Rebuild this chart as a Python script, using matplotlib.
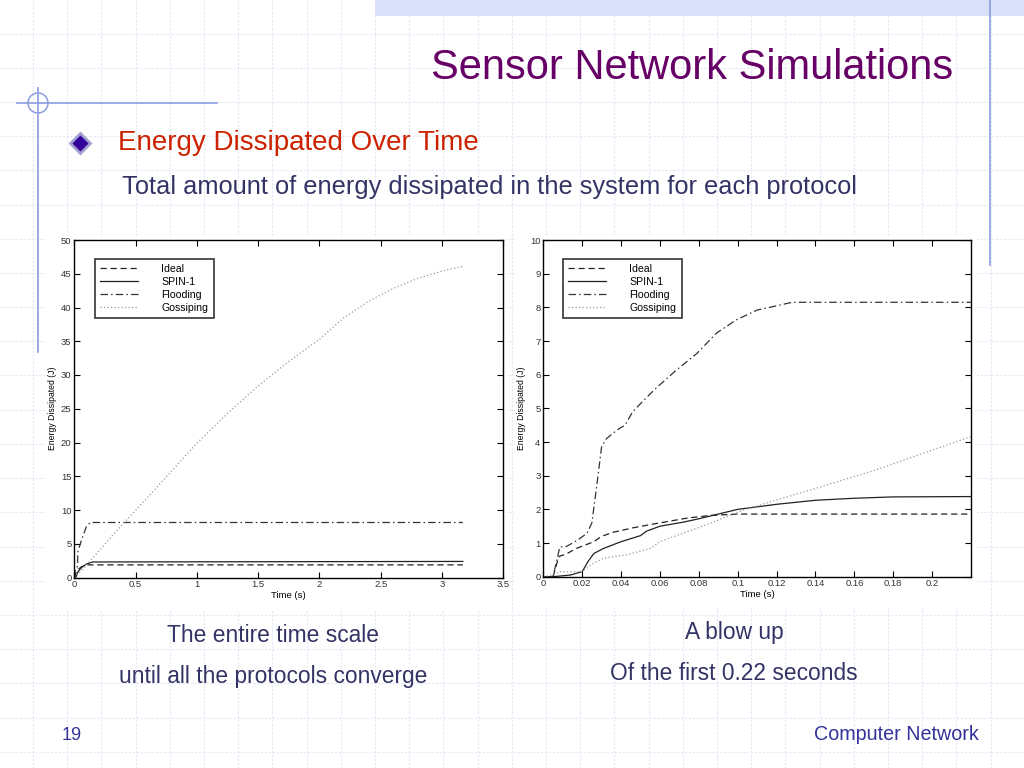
import matplotlib
matplotlib.use("Agg")
import matplotlib.pyplot as plt
from matplotlib.patches import Rectangle, Circle

# ---- data ----
labels = ["Ideal", "SPIN-1", "Flooding", "Gossiping"]

# whole time scale (left chart)
full_ideal_t = [0, 0.005, 0.01, 0.03, 0.06, 0.1, 3.17]
full_ideal_e = [0, 0, 0.6, 1.2, 1.6, 1.87, 1.87]
full_spin_t = [0, 0.015, 0.03, 0.06, 0.1, 0.15, 3.17]
full_spin_e = [0, 0.1, 0.85, 1.5, 2.0, 2.3, 2.38]
full_flood_t = [0, 0.005, 0.025, 0.03, 0.06, 0.1, 0.13, 3.17]
full_flood_e = [0, 0.9, 1.6, 3.9, 5.6, 7.6, 8.15, 8.15]
full_gossip_t = [0, 0.01, 0.03, 0.06, 0.1, 0.14, 0.2, 0.3, 0.4, 0.6, 0.8, 1.0,
                 1.25, 1.5, 1.75, 2.0, 2.2, 2.4, 2.6, 2.8, 3.0, 3.17]
full_gossip_e = [0, 0.15, 0.55, 1.05, 1.8, 2.7, 3.9, 6.0, 8.0, 11.9, 15.9, 19.9,
                 24.3, 28.4, 32.0, 35.3, 38.5, 40.9, 42.8, 44.3, 45.4, 46.1]

# first 0.22 s (right chart)
zoom_ideal_t = [0, 0.005, 0.008, 0.012, 0.017, 0.022, 0.026, 0.03, 0.036, 0.046,
                0.06, 0.074, 0.086, 0.1, 0.22]
zoom_ideal_e = [0, 0, 0.6, 0.68, 0.84, 0.95, 1.04, 1.2, 1.32, 1.45,
                1.6, 1.74, 1.82, 1.86, 1.86]
zoom_spin_t = [0, 0.005, 0.014, 0.02, 0.023, 0.026, 0.031, 0.04, 0.05, 0.053, 0.06,
               0.072, 0.08, 0.09, 0.1, 0.12, 0.14, 0.16, 0.18, 0.22]
zoom_spin_e = [0, 0, 0.05, 0.15, 0.45, 0.69, 0.84, 1.04, 1.22, 1.35, 1.5,
               1.62, 1.72, 1.86, 2.0, 2.15, 2.27, 2.33, 2.37, 2.38]
zoom_flood_t = [0, 0.005, 0.0085, 0.012, 0.018, 0.0225, 0.025, 0.0277, 0.03, 0.0325,
                0.038, 0.042, 0.046, 0.051, 0.058, 0.0685, 0.079, 0.089, 0.099,
                0.11, 0.118, 0.128, 0.22]
zoom_flood_e = [0, 0, 0.88, 0.9, 1.1, 1.29, 1.6, 2.8, 3.86, 4.1,
                4.36, 4.5, 4.9, 5.2, 5.6, 6.14, 6.63, 7.23, 7.62,
                7.92, 8.02, 8.15, 8.15]
zoom_gossip_t = [0, 0.005, 0.0086, 0.0197, 0.026, 0.031, 0.043, 0.055, 0.06,
                 0.0856, 0.103, 0.12, 0.137, 0.171, 0.2, 0.22]
zoom_gossip_e = [0, 0.05, 0.15, 0.15, 0.4, 0.55, 0.65, 0.84, 1.04,
                 1.58, 1.98, 2.28, 2.57, 3.17, 3.76, 4.16]

full_xticks = [0, 0.5, 1, 1.5, 2, 2.5, 3, 3.5]
full_xlabels = ["0", "0.5", "1", "1.5", "2", "2.5", "3", "3.5"]
zoom_xticks = [0, 0.02, 0.04, 0.06, 0.08, 0.1, 0.12, 0.14, 0.16, 0.18, 0.2]
zoom_xlabels = ["0", "0.02", "0.04", "0.06", "0.08", "0.1", "0.12", "0.14", "0.16", "0.18", "0.2"]

W, H = 1024, 768
fig = plt.figure(figsize=(10.24, 7.68), dpi=100)
fig.patch.set_facecolor("white")

# slide background drawn in pixel coordinates
bg = fig.add_axes([0, 0, 1, 1])
bg.set_xlim(0, W)
bg.set_ylim(H, 0)
bg.axis("off")

grid_col = "#e3e7f6"
k = 33.0
while k < W:
    bg.plot([k, k], [0, H], color=grid_col, lw=0.8, ls=(0, (2, 1.5)), zorder=0)
    k += 34.2
k = 33.5
while k < H:
    bg.plot([0, W], [k, k], color=grid_col, lw=0.8, ls=(0, (2, 1.5)), zorder=0)
    k += 34.2

bg.add_patch(Rectangle((375, 0), W - 375, 16, facecolor="#d9e1f8", edgecolor="none", zorder=1))
bg.plot([990, 990], [0, 265], color="#8c9de0", lw=1.2, zorder=2)
bg.plot([17, 217], [103, 103], color="#8c9de0", lw=1.2, zorder=2)
bg.plot([38, 38], [88, 352], color="#8c9de0", lw=1.2, zorder=2)
bg.add_patch(Circle((38, 103), 10, fill=False, edgecolor="#8c9de0", lw=1.1, zorder=2))

# white picture areas for the two charts
bg.add_patch(Rectangle((45, 236), 462, 374, facecolor="white", edgecolor="none", zorder=3))
bg.add_patch(Rectangle((515, 236), 462, 370, facecolor="white", edgecolor="none", zorder=3))

font = "Liberation Sans"
bg.text(953, 68, "Sensor Network Simulations", color="#660066", fontsize=30,
        family=font, ha="right", va="center", zorder=4)
bg.plot([80], [143], marker="D", markersize=10, markerfacecolor="#330099",
        markeredgecolor="#a0a0d0", markeredgewidth=2, zorder=4)
bg.text(118, 143, "Energy Dissipated Over Time", color="#cc2200", fontsize=20,
        family=font, ha="left", va="center", zorder=4)
bg.text(122, 187, "Total amount of energy dissipated in the system for each protocol",
        color="#333366", fontsize=18.3, family=font, ha="left", va="center", zorder=4)
bg.text(273, 635, "The entire time scale", color="#333366", fontsize=16.4,
        family=font, ha="center", va="center", zorder=4)
bg.text(273, 676, "until all the protocols converge", color="#333366", fontsize=16.4,
        family=font, ha="center", va="center", zorder=4)
bg.text(734, 633, "A blow up", color="#333366", fontsize=16.4,
        family=font, ha="center", va="center", zorder=4)
bg.text(734, 673, "Of the first 0.22 seconds", color="#333366", fontsize=16.4,
        family=font, ha="center", va="center", zorder=4)
bg.text(62, 736, "19", color="#333399", fontsize=13, family=font,
        ha="left", va="center", zorder=4)
bg.text(979, 735, "Computer Network", color="#333399", fontsize=14.2, family=font,
        ha="right", va="center", zorder=4)


def px_axes(x0, x1, y0, y1):
    return fig.add_axes([x0 / W, 1 - y1 / H, (x1 - x0) / W, (y1 - y0) / H])


def style_chart(ax, xlim, ylim, xticks, xlabels, yticks):
    ax.set_xlim(*xlim)
    ax.set_ylim(*ylim)
    ax.set_xticks(xticks)
    ax.set_xticklabels(xlabels)
    ax.set_yticks(yticks)
    ax.tick_params(direction="in", top=True, right=True, length=4, width=0.8,
                   labelsize=6.8, pad=2, labelcolor="#333333")
    for s in ax.spines.values():
        s.set_linewidth(1.0)
    ax.set_xlabel("Time (s)", fontsize=6.8, labelpad=1, family="Liberation Sans")
    ax.set_ylabel("Energy Dissipated (J)", fontsize=6.2, labelpad=3, family="Liberation Sans")
    for lab in ax.get_xticklabels() + ax.get_yticklabels():
        lab.set_family("Liberation Sans")


def draw(ax, series):
    (it, ie), (st, se), (ft, fe), (gt, ge) = series
    ax.plot(it, ie, color="#222222", lw=0.9, ls=(0, (5, 3)), label=labels[0])
    ax.plot(st, se, color="#222222", lw=0.9, ls="-", label=labels[1])
    ax.plot(ft, fe, color="#333333", lw=0.9, ls=(0, (6, 2.5, 1.2, 2.5)), label=labels[2])
    ax.plot(gt, ge, color="#9a9a9a", lw=0.9, ls=(0, (1, 1.8)), label=labels[3])


def add_legend(ax, x_anchor):
    leg = ax.legend(loc="upper left", bbox_to_anchor=(x_anchor, 0.945),
                    frameon=True, fancybox=False, edgecolor="black", handlelength=3.6,
                    handletextpad=2.2, borderpad=0.5, labelspacing=0.28, borderaxespad=0,
                    prop={"family": "Liberation Sans", "size": 7.6})
    leg.get_frame().set_linewidth(1.2)


ax1 = px_axes(74.3, 503.3, 240, 577.5)
draw(ax1, [(full_ideal_t, full_ideal_e), (full_spin_t, full_spin_e),
           (full_flood_t, full_flood_e), (full_gossip_t, full_gossip_e)])
style_chart(ax1, (0, 3.5), (0, 50), full_xticks, full_xlabels, range(0, 51, 5))
add_legend(ax1, 0.048)

ax2 = px_axes(543.3, 971, 240, 576.7)
draw(ax2, [(zoom_ideal_t, zoom_ideal_e), (zoom_spin_t, zoom_spin_e),
           (zoom_flood_t, zoom_flood_e), (zoom_gossip_t, zoom_gossip_e)])
style_chart(ax2, (0, 0.22), (0, 10), zoom_xticks, zoom_xlabels, range(0, 11))
add_legend(ax2, 0.046)

fig.savefig("out.png", dpi=100)
